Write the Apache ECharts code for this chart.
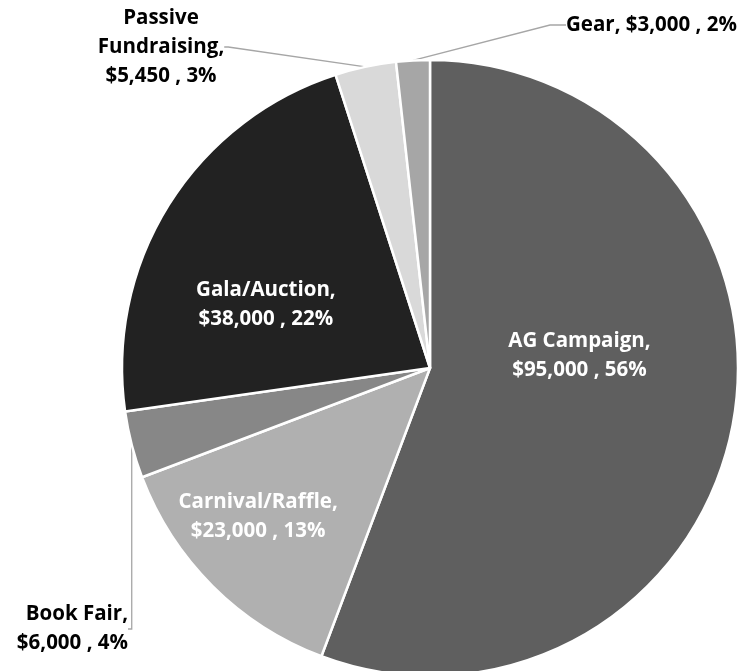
<!DOCTYPE html>
<html>
<head>
<meta charset="utf-8">
<script src="https://cdn.jsdelivr.net/npm/echarts@6/dist/echarts.min.js"></script>
<style>
  html, body { margin: 0; padding: 0; background: #fff; }
  #chart { width: 754px; height: 671px; }
</style>
</head>
<body>
<div id="chart"></div>
<script>
// fundraising sources, clockwise from 12 o'clock
var categories = ['AG Campaign', 'Carnival/Raffle', 'Book Fair', 'Gala/Auction', 'Passive Fundraising', 'Gear'];
var amounts = [95000, 23000, 6000, 38000, 5450, 3000];
var sliceColors = ['#5f5f5f', '#b0b0b0', '#878787', '#222222', '#d9d9d9', '#a6a6a6'];

var total = amounts.reduce(function (a, b) { return a + b; }, 0);

function money(v) {
  return '$' + v.toString().replace(/\B(?=(\d{3})+(?!\d))/g, ',');
}

// which slices carry their label outside with a leader line
var outside = { 'Book Fair': true, 'Passive Fundraising': true, 'Gear': true };

var pieData = categories.map(function (name, i) {
  var item = { name: name, value: amounts[i], itemStyle: { color: sliceColors[i] } };
  if (outside[name]) {
    item.label = { position: 'outside', color: '#000' };
    item.labelLine = { show: true };
  }
  return item;
});
// Book Fair: widen the label box to the left so the leader line meets its right side
pieData[2].label.padding = [0, 0, 0, 130];
pieData[5].labelLine.length2 = 16;

var myChart = echarts.init(document.getElementById('chart'));

var option = {
  animation: false,
  series: [{
    type: 'pie',
    center: [430, 368],
    radius: 308,
    startAngle: 90,
    clockwise: true,
    avoidLabelOverlap: false,
    itemStyle: { borderColor: '#fff', borderWidth: 2.5 },
    label: {
      show: true,
      position: 'inside',
      color: '#fff',
      fontFamily: 'Open Sans',
      fontWeight: 'bold',
      fontSize: 20.5,
      lineHeight: 29,
      align: 'center',
      formatter: function (p) {
        var pct = Math.round(p.value / total * 100) + '%';
        var name = p.name;
        if (name === 'Gear') return name + ', ' + money(p.value) + ' , ' + pct;
        if (name === 'Passive Fundraising') name = 'Passive\nFundraising';
        return name + ',\n' + money(p.value) + ' , ' + pct;
      }
    },
    labelLine: {
      show: false,
      length: 20,
      length2: 4,
      lineStyle: { color: '#a6a6a6', width: 1.3 }
    },
    labelLayout: function (p) {
      switch (p.dataIndex) {
        case 0: return { dx: -5, dy: -40 };
        case 1: return { dx: -61, dy: 38 };
        case 3: return { dx: -31, dy: 20 };
        case 2: return { x: 128, y: 629, align: 'right', verticalAlign: 'middle' };
        case 4: return { x: 161, y: 47, align: 'center', verticalAlign: 'middle' };
        case 5: return { x: 566, y: 25, align: 'left', verticalAlign: 'middle' };
      }
      return {};
    },
    data: pieData
  }]
};

myChart.setOption(option);
</script>
</body>
</html>
